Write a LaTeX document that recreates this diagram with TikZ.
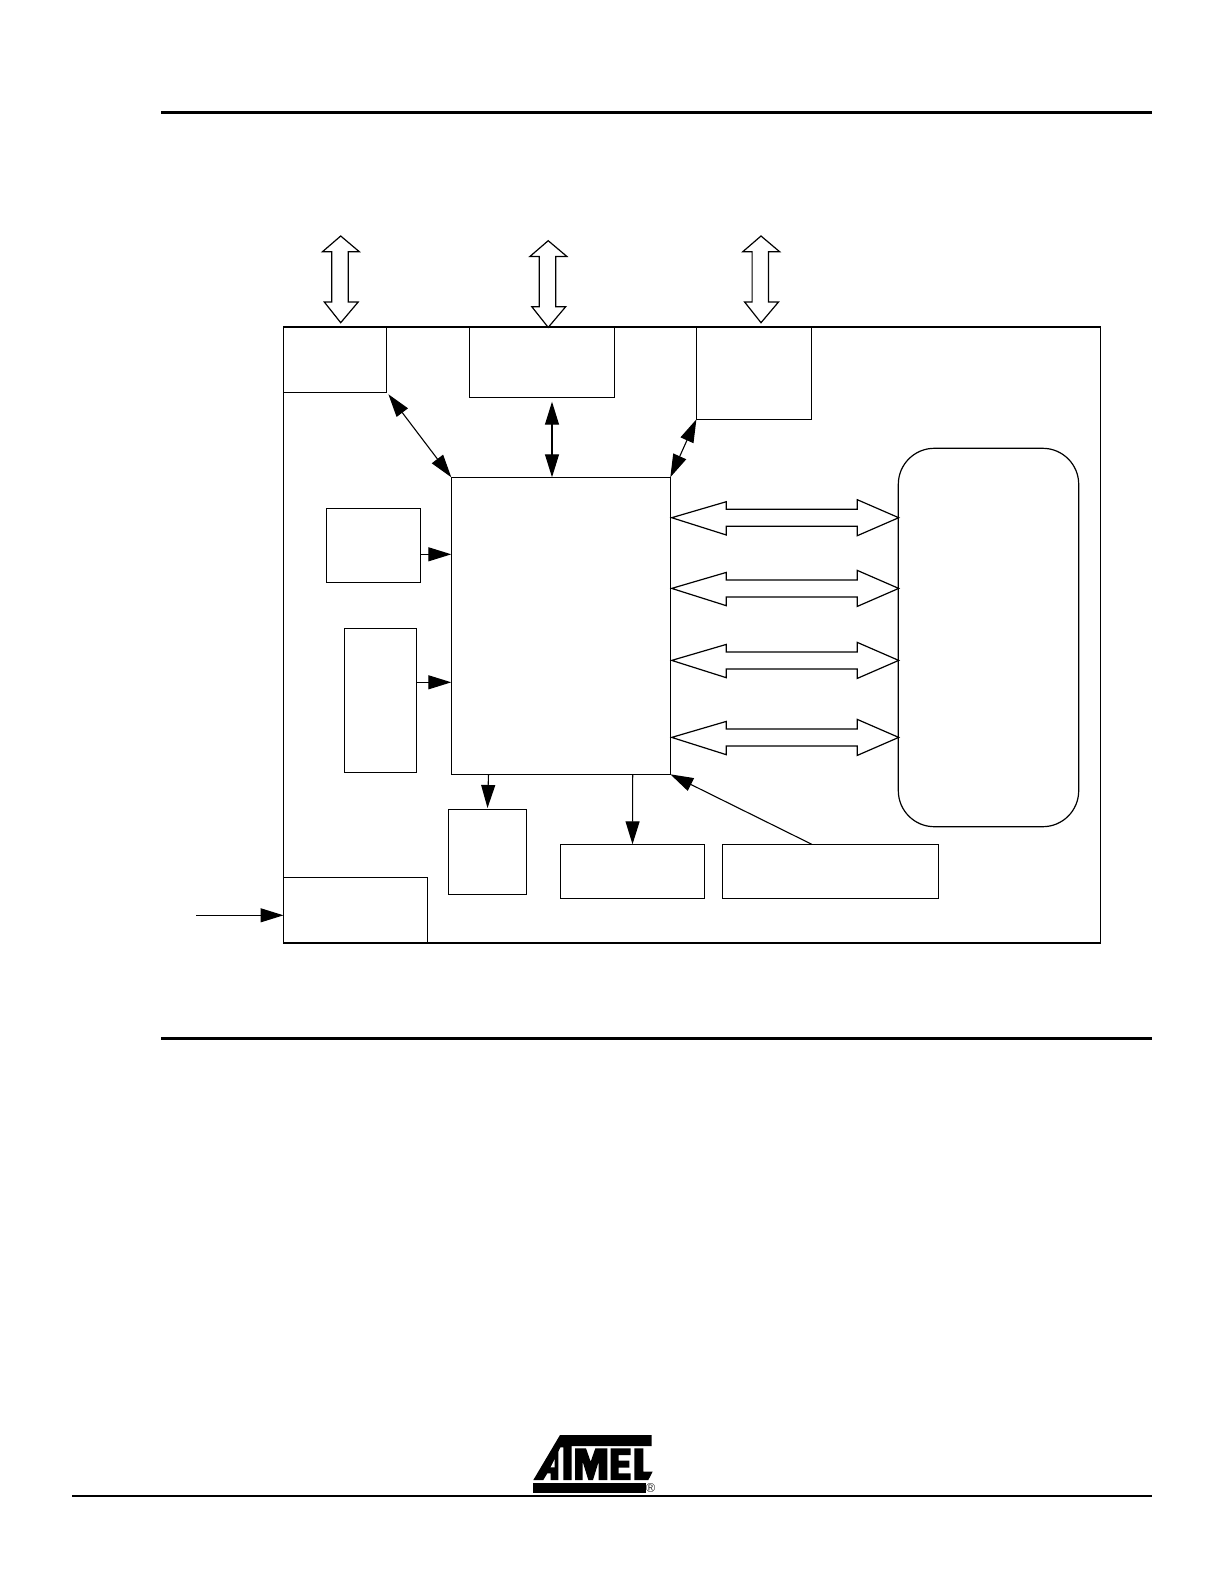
\documentclass[tikz,border=0pt]{standalone}
\usetikzlibrary{arrows.meta}
\tikzset{
  blockbox/.style={draw,line width=1.2pt,inner sep=0pt,outer sep=0pt,anchor=north west},
  blockarrow/.style={draw,fill=white,line width=1.2pt,line join=miter},
  pagerule/.style={line width=3pt},
  onehead/.style={line width=1.1pt,-{Triangle[length=23pt,width=14pt]}},
  twohead/.style={line width=1.1pt,{Triangle[length=23pt,width=14pt]}-{Triangle[length=23pt,width=14pt]}}
}
\begin{document}
\begin{tikzpicture}[x=1pt,y=-1pt]
      \useasboundingbox (0,0) rectangle (1224,1584);
      \coordinate (ruletopl) at (161,112.3);
      \coordinate (ruletopr) at (1151.5,112.3);
      \coordinate (rulemidl) at (161,1038.3);
      \coordinate (rulemidr) at (1151.5,1038.3);
      \coordinate (rulelowl) at (72,1496);
      \coordinate (rulelowr) at (1151.5,1496);
      \draw[pagerule] (ruletopl) -- (ruletopr);
      \draw[pagerule] (rulemidl) -- (rulemidr);
      \draw[line width=2pt] (rulelowl) -- (rulelowr);
      \node[blockbox,minimum width=817.2pt,minimum height=616pt] (outer) at (283.5,327) {};
      \node[blockbox,minimum width=102.9pt,minimum height=65.3pt] (upperleft) at (283.5,327) {};
      \node[blockbox,minimum width=145pt,minimum height=70.3pt] (uppermid) at (469.3,327) {};
      \node[blockbox,minimum width=115pt,minimum height=92.3pt] (upperright) at (696.4,327) {};
      \node[blockbox,minimum width=219pt,minimum height=297pt] (hub) at (451.3,477.3) {};
      \node[blockbox,minimum width=94pt,minimum height=74pt] (sidetop) at (326.3,508.3) {};
      \node[blockbox,minimum width=72.4pt,minimum height=144pt] (sidelow) at (344.3,628.3) {};
      \node[blockbox,minimum width=78.1pt,minimum height=85.4pt] (lowerleft) at (448.7,809.3) {};
      \node[blockbox,minimum width=143.8pt,minimum height=54pt] (lowermid) at (560.6,844.3) {};
      \node[blockbox,minimum width=215.9pt,minimum height=54pt] (lowerright) at (722.8,844.3) {};
      \node[blockbox,minimum width=144.3pt,minimum height=65.7pt] (corner) at (283.5,877.3) {};
      \node[blockbox,rounded corners=36pt,minimum width=180.4pt,minimum height=378.4pt] (memory) at (898.3,448.3) {};
      % wide arrows
      \foreach \dx/\dy in {0/0,207.5/4.7,420.3/0}
        \draw[blockarrow,shift={(\dx,\dy)}] (340.7,236) -- (359.3,251.7) -- (348.2,251.7) -- (348.2,302)
          -- (358.2,302) -- (340.7,322.7) -- (324.3,302) -- (331.8,302) -- (331.8,251.7) -- (322.5,251.7) -- cycle;
      \foreach \dy in {0,70.7,142.7,219.7}
        \draw[blockarrow,shift={(0,\dy)}] (671.7,517.7) -- (726.3,501.7) -- (726.3,509.3) -- (857.3,509.3) -- (857.3,499.7)
          -- (898.7,517.7) -- (857.3,535.7) -- (857.3,526.3) -- (726.3,526.3) -- (726.3,535) -- cycle;
      % thin arrows
      \coordinate (uppermidout) at (552,401.7);
      \coordinate (hubtop) at (552,477.3);
      \coordinate (hubsidetop) at (451.3,554.3);
      \coordinate (hubsidelow) at (451.3,682.3);
      \coordinate (hubdown) at (488.5,774.3);
      \coordinate (lowerleftin) at (487.5,808);
      \coordinate (hubmid) at (632.7,774.3);
      \coordinate (lowerrightout) at (811.8,844.3);
      \coordinate (feed) at (196,915.3);
      \coordinate (cornerin) at (283.5,915.3);
      \begin{scope}
        \draw[twohead] ([shift={(2,2)}]upperleft.south east) to (hub.north west);
        \draw[twohead] (uppermidout) to (hubtop);
        \draw[twohead] (upperright.south west) to (hub.north east);
        \draw[onehead] (sidetop.east |- hubsidetop) to (hubsidetop);
        \draw[onehead] (sidelow.east |- hubsidelow) to (hubsidelow);
        \draw[onehead] (hubdown) to (lowerleftin);
        \draw[onehead] (hubmid) to (lowermid.north);
        \draw[onehead] (lowerrightout) to (hub.south east);
        \draw[onehead] (feed) to (cornerin);
      \end{scope}
      % logo
      \begin{scope}[shift={(500,1420)},x=0.3333pt,y=-0.3333pt]
        \fill (180,45) -- (455,45) -- (455,78) -- (215,78) -- (215,180) -- (190,180) -- (190,82) -- (181,82) -- (175,95)
          -- (175,180) -- (152,180) -- (152,160) -- (142,160) -- (130,180) -- (100,180) -- cycle;
        \fill[white] (164,118) -- (164,142) -- (152,142) -- cycle;
        \fill (225,85) -- (258,85) -- (272,125) -- (286,85) -- (322,85) -- (322,180) -- (296,180) -- (296,125) -- (279,180)
          -- (265,180) -- (248,125) -- (248,180) -- (225,180) -- cycle;
        \fill (332,85) -- (392,85) -- (392,105) -- (356,105) -- (356,122) -- (388,122) -- (388,143) -- (356,143) -- (356,160)
          -- (392,160) -- (392,180) -- (332,180) -- cycle;
        \fill (403,85) -- (430,85) -- (430,155) -- (458,155) -- (445,180) -- (403,180) -- cycle;
        \fill (100,190) -- (437,190) -- (437,218) -- (100,218) -- cycle;
        \node[inner sep=0pt] (regmark) at (452,205) {\fontsize{13}{13}\selectfont\sffamily\textregistered};
      \end{scope}
    \end{tikzpicture}
\end{document}
